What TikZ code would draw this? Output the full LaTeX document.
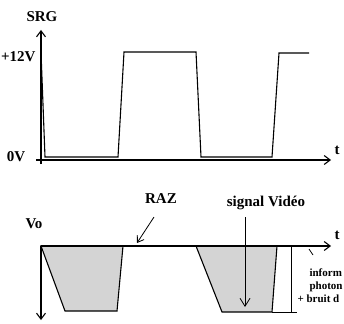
\documentclass[tikz,border=0pt]{standalone}
\usepackage{fontspec}
\setmainfont{Liberation Serif}
\usetikzlibrary{arrows.meta}
\begin{document}
\begin{tikzpicture}[x=1pt,y=-1pt,
  line width=1.1pt,
  lbl/.style={font=\fontsize{15}{17}\selectfont\bfseries,inner sep=0pt},
  small/.style={font=\fontsize{11}{13}\selectfont\bfseries,inner sep=0pt,anchor=base west},
  axis/.style={-{Straight Barb[length=6pt,width=9pt,line width=1.1pt]}},
  thin/.style={line width=0.8pt},
  pulse/.style={draw,fill=black!17,line join=miter}]
\useasboundingbox (0,0) rectangle (344,323);
% ---- top graph ----
\coordinate (o1) at (41,164);
\coordinate (ytop) at (41,30);
\coordinate (x1s) at (36,160);
\coordinate (x1e) at (331,160);
\draw[axis] (o1) -- (ytop);
\draw[axis] (x1s) -- (x1e);
\draw[line join=miter] (41,52) -- (45,157) -- (118,157) -- (124,52) -- (196,52)
  -- (201,157) -- (272,157) -- (279,53) -- (309,53);
\node[lbl] (srg) at (42,17) {SRG};
\node[lbl,anchor=west] (v12) at (0.5,57) {+12V};
\node[lbl] (v0) at (16,157) {0V};
\node[lbl] (t1) at (337,150) {t};
% ---- bottom graph ----
\coordinate (o2) at (41,246);
\coordinate (ybot) at (41,320);
\coordinate (x2e) at (331,246);
\path[pulse] (41,246) -- (123,246) -- (117,311) -- (65,311) -- cycle;
\path[pulse] (196,246) -- (277,246) -- (272,312) -- (222,312) -- cycle;
\draw[axis] (o2) -- (ybot);
\draw[axis] (o2) -- (x2e);
\coordinate (b1) at (291,246);
\coordinate (b2) at (291,312);
\draw[thin] (b1) -- (b2);
\draw[thin] (272,312) -- (297,312);
\draw[thin] (309,249) -- (313,255);
\node[lbl] (vo) at (34,224) {Vo};
\node[lbl] (raz) at (161,199) {RAZ};
\node[lbl] (sig) at (266,203) {signal Vidéo};
\node[lbl] (t2) at (337,235) {t};
\coordinate (razs) at (154,217);
\coordinate (raze) at (137,243);
\draw[thin,-{Straight Barb[length=6pt,width=8pt,line width=0.8pt]}] (razs) -- (raze);
\coordinate (sigs) at (245,217);
\coordinate (sige) at (245,307);
\draw[thin,-{Straight Barb[length=8pt,width=10pt,line width=0.8pt]}] (sigs) -- (sige);
\node[small] (i1) at (309,276) {inform};
\node[small] (i2) at (309,289) {photon};
\node[small] (i3) at (297,302) {+ bruit d};
\end{tikzpicture}
\end{document}
